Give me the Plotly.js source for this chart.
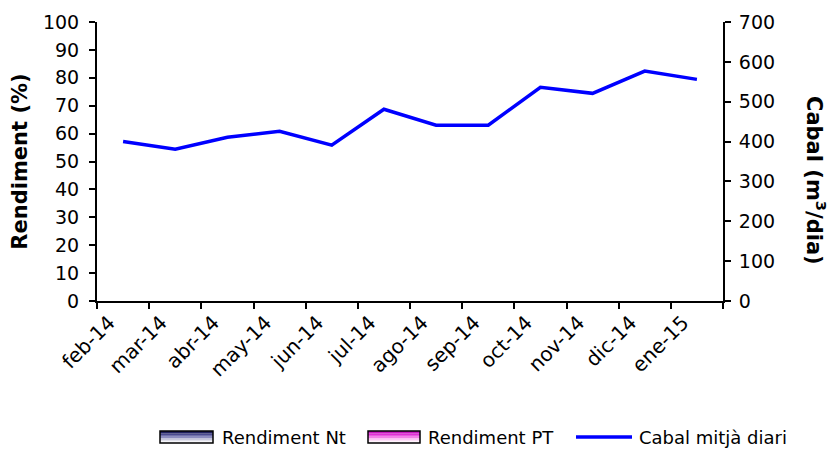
<!DOCTYPE html>
<html>
<head>
<meta charset="utf-8">
<script src="https://cdn.plot.ly/plotly-3.0.1.min.js"></script>
<style>html,body{margin:0;padding:0;background:#fff;}#chart{width:831px;height:450px;}</style>
</head>
<body>
<div id="chart"></div>
<script>
const months = ["feb-14","mar-14","abr-14","may-14","jun-14","jul-14","ago-14","sep-14","oct-14","nov-14","dic-14","ene-15"];
const rendimentNt = [null,null,null,null,null,null,null,null,null,null,null,null];
const rendimentPT = [null,null,null,null,null,null,null,null,null,null,null,null];
const cabal = [400,381,411,426,391,481,441,441,536,521,577,556];
const seriesNames = ["Rendiment Nt","Rendiment PT","Cabal mitjà diari"];

const F = "DejaVu Sans, Verdana, sans-serif";

const traces = [
  {type:"bar", x:months, y:rendimentNt, name:seriesNames[0], yaxis:"y", marker:{color:"#7c7cb4", line:{color:"#000",width:1}}, showlegend:false},
  {type:"bar", x:months, y:rendimentPT, name:seriesNames[1], yaxis:"y", marker:{color:"#f090e8", line:{color:"#000",width:1}}, showlegend:false},
  {type:"scatter", mode:"lines", x:months, y:cabal, name:seriesNames[2], yaxis:"y2", line:{color:"#0000ff", width:3.5}, showlegend:false}
];

// custom legend (gradient swatches)
const shapes = [];
function gradSwatch(x0, x1, y0, y1, cols){
  const n = cols.length, h = (y1-y0)/n;
  cols.forEach((c,i)=>{
    shapes.push({type:"rect", xref:"paper", yref:"paper", x0:x0, x1:x1, y0:y0+h*i, y1:y0+h*(i+1), fillcolor:c, line:{width:0}, layer:"above"});
  });
  shapes.push({type:"rect", xref:"paper", yref:"paper", x0:x0, x1:x1, y0:y0, y1:y1, fillcolor:"rgba(0,0,0,0)", line:{color:"#000",width:1.5}, layer:"above"});
}
// paper coords: plot x 97..723 (width 626), y 22..301 (height 279)
const px = v => (v-97)/626;
const py = v => (301-v)/279;
gradSwatch(px(160), px(213), py(443), py(431), ["#f4f4f8","#c8c8dc","#8c8cc0","#4a4a90","#202060"]);
gradSwatch(px(368), px(420), py(443), py(431), ["#fff4fc","#fcc8f4","#f480e8","#e030d4","#c818c0"]);
shapes.push({type:"line", xref:"paper", yref:"paper", x0:px(576), x1:px(632), y0:py(437), y1:py(437), line:{color:"#0000ff", width:3.5}, layer:"above"});

const annotations = [
  {xref:"paper", yref:"paper", x:px(220), y:py(437), xanchor:"left", yanchor:"middle", text:seriesNames[0], showarrow:false, font:{family:F, size:18, color:"#000"}},
  {xref:"paper", yref:"paper", x:px(426), y:py(437), xanchor:"left", yanchor:"middle", text:seriesNames[1], showarrow:false, font:{family:F, size:18, color:"#000"}},
  {xref:"paper", yref:"paper", x:px(637), y:py(437), xanchor:"left", yanchor:"middle", text:seriesNames[2], showarrow:false, font:{family:F, size:18, color:"#000"}},
  {xref:"paper", yref:"paper", x:px(816), y:py(180), xanchor:"center", yanchor:"middle", textangle:90, text:"<b>Cabal (m<sup>3</sup>/dia)</b>", showarrow:false, font:{family:F, size:21, color:"#000"}}
];

const layout = {
  width:831, height:450,
  margin:{l:97, r:108, t:22, b:149},
  paper_bgcolor:"#fff", plot_bgcolor:"#fff",
  font:{family:F, size:18, color:"#000"},
  barmode:"group",
  xaxis:{type:"category", tickson:"boundaries", ticks:"outside", ticklen:6, tickwidth:2, tickcolor:"#000",
         showline:true, linecolor:"#000", linewidth:2, showgrid:false, zeroline:false,
         tickangle:-45, tickfont:{family:F, size:20}, ticklabelshift:-14, range:[-0.5,11.5], fixedrange:true},
  yaxis:{range:[0,100], dtick:10, ticks:"outside", ticklen:6, tickwidth:2, tickcolor:"#000",
         showline:true, linecolor:"#000", linewidth:2, showgrid:false, zeroline:false,
         tickfont:{family:F, size:19}, ticklabelstandoff:6,
         title:{text:"<b>Rendiment (%)</b>", font:{family:F, size:21}, standoff:10}},
  yaxis2:{range:[0,700], dtick:100, overlaying:"y", side:"right", ticks:"outside", ticklen:6, tickwidth:2, tickcolor:"#000",
          showline:true, linecolor:"#000", linewidth:2, showgrid:false, zeroline:false,
          tickfont:{family:F, size:19}, ticklabelstandoff:4},
  shapes:shapes,
  annotations:annotations,
  showlegend:false
};

Plotly.newPlot("chart", traces, layout, {staticPlot:true, displayModeBar:false});
</script>
</body>
</html>
